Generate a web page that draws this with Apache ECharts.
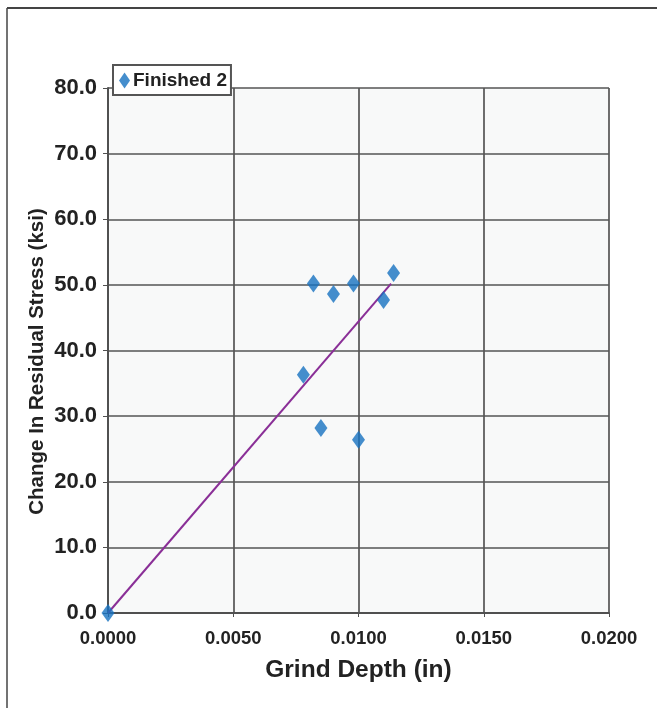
<!DOCTYPE html>
<html>
<head>
<meta charset="utf-8">
<script src="https://cdn.jsdelivr.net/npm/echarts@6/dist/echarts.min.js"></script>
<style>
  html, body { margin: 0; padding: 0; background: #fff; }
  #main { width: 657px; height: 708px; }
</style>
</head>
<body>
<div id="main"></div>
<script>
// measured points: grind depth (in) vs change in residual stress (ksi)
const depth = [0.0, 0.0078, 0.0082, 0.0085, 0.0090, 0.0098, 0.0100, 0.0110, 0.0114]
const stress = [0.0, 36.3, 50.2, 28.2, 48.6, 50.2, 26.4, 47.7, 51.8]

// linear trendline end points
const trendX = [0.0, 0.0113]
const trendY = [0.0, 50.2]

const seriesName = "Finished 2"

const chart = echarts.init(document.getElementById("main"))

const font = "Liberation Sans, Arial, sans-serif"

const option = {
  backgroundColor: "#fff",
  animation: false,
  graphic: [
    // page frame (left and top edges)
    {
      type: "line",
      shape: { x1: 7, y1: 8, x2: 657, y2: 8 },
      style: { stroke: "#444", lineWidth: 2 },
    },
    {
      type: "line",
      shape: { x1: 7, y1: 8, x2: 7, y2: 708 },
      style: { stroke: "#444", lineWidth: 1.5 },
    },
  ],
  grid: {
    left: 108,
    right: 48,
    top: 88,
    bottom: 95,
    show: true,
    backgroundColor: "#f8f9f9",
    borderWidth: 0,
  },
  legend: {
    left: 113,
    top: 65,
    data: [{ name: seriesName, icon: "diamond" }],
    itemWidth: 11,
    itemHeight: 16,
    itemGap: 4,
    padding: [6, 4, 5, 6],
    backgroundColor: "#fff",
    borderColor: "#555",
    borderWidth: 2,
    textStyle: {
      fontFamily: font,
      fontWeight: "bold",
      fontSize: 19,
      color: "#222",
      padding: [0, 0, 0, -2],
    },
  },
  xAxis: {
    type: "value",
    min: 0,
    max: 0.02,
    interval: 0.005,
    name: "Grind Depth (in)",
    nameLocation: "middle",
    nameGap: 45,
    nameMoveOverlap: false,
    nameTextStyle: {
      fontFamily: font,
      fontWeight: "bold",
      fontSize: 24.5,
      color: "#222",
    },
    axisLine: { show: true, lineStyle: { color: "#505050", width: 2 } },
    axisTick: { show: true, length: 4, lineStyle: { color: "#505050" } },
    axisLabel: {
      formatter: v => v.toFixed(4),
      margin: 16,
      fontFamily: font,
      fontWeight: "bold",
      fontSize: 18.5,
      color: "#222",
    },
    splitLine: { show: true, lineStyle: { color: "#555", width: 1.7 } },
  },
  yAxis: {
    type: "value",
    min: 0,
    max: 80,
    interval: 10,
    name: "Change In Residual Stress (ksi)",
    nameLocation: "middle",
    nameGap: 60,
    nameMoveOverlap: false,
    nameTextStyle: {
      fontFamily: font,
      fontWeight: "bold",
      fontSize: 20.5,
      color: "#222",
      padding: [0, 22, 0, 0],
    },
    axisLine: { show: true, lineStyle: { color: "#505050", width: 2 } },
    axisTick: { show: true, length: 5, lineStyle: { color: "#505050" } },
    axisLabel: {
      formatter: v => v.toFixed(1),
      margin: 11,
      fontFamily: font,
      fontWeight: "bold",
      fontSize: 22,
      color: "#222",
    },
    splitLine: { show: true, lineStyle: { color: "#555", width: 1.7 } },
  },
  series: [
    {
      name: "trend",
      type: "line",
      data: trendX.map((x, i) => [x, trendY[i]]),
      showSymbol: false,
      lineStyle: { color: "#8a2f97", width: 2 },
      z: 3,
    },
    {
      name: seriesName,
      type: "scatter",
      data: depth.map((x, i) => [x, stress[i]]),
      symbol: "diamond",
      symbolSize: [13, 18],
      itemStyle: { color: "#1672c0" },
      z: 4,
    },
  ],
}

chart.setOption(option)
</script>
</body>
</html>
